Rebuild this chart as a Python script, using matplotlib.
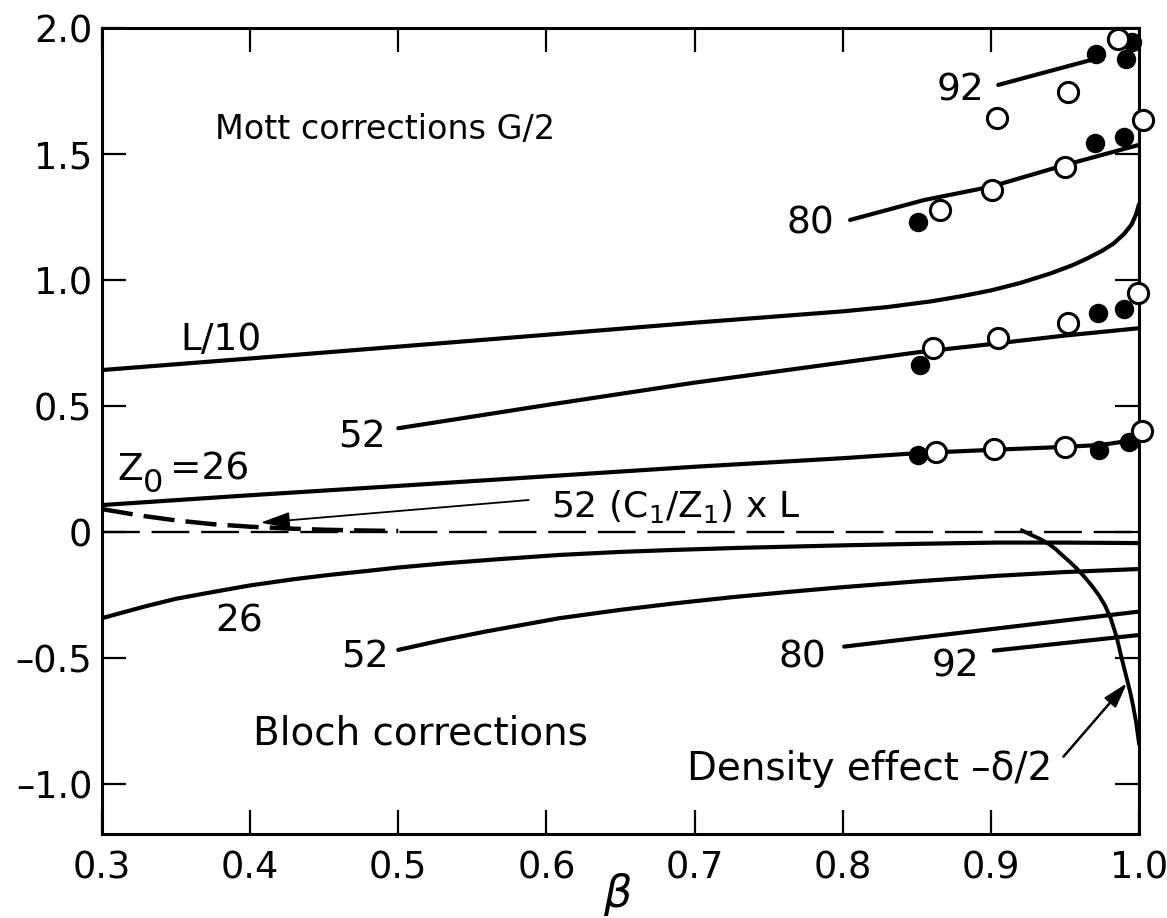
import matplotlib
matplotlib.use("Agg")
import matplotlib.pyplot as plt

plt.rcParams['font.family'] = ['DejaVu Sans']
plt.rcParams['mathtext.fontset'] = 'dejavusans'

# ---------------- data ----------------
x_ticks = [0.3, 0.4, 0.5, 0.6, 0.7, 0.8, 0.9, 1.0]
x_ticklabels = ["0.3", "0.4", "0.5", "0.6", "0.7", "0.8", "0.9", "1.0"]
y_ticks = [-1.0, -0.5, 0.0, 0.5, 1.0, 1.5, 2.0]
y_ticklabels = ["–1.0", "–0.5", "0", "0.5", "1.0", "1.5", "2.0"]

# L/10 curve
l10_x = [0.30, 0.40, 0.50, 0.60, 0.70, 0.80, 0.83, 0.86, 0.88, 0.90, 0.92, 0.94,
         0.955, 0.965, 0.975, 0.983, 0.99, 0.995, 0.998, 1.0]
l10_y = [0.642, 0.688, 0.735, 0.782, 0.830, 0.875, 0.892, 0.915, 0.935, 0.958, 0.988, 1.025,
         1.058, 1.085, 1.115, 1.145, 1.183, 1.220, 1.260, 1.300]

# Mott corrections G/2
mott26_x = [0.30, 0.40, 0.50, 0.60, 0.70, 0.80, 0.85, 0.90, 0.95, 0.975, 1.0]
mott26_y = [0.106, 0.145, 0.182, 0.220, 0.258, 0.292, 0.312, 0.325, 0.337, 0.345, 0.367]
mott52_x = [0.50, 0.60, 0.70, 0.80, 0.85, 0.90, 0.95, 1.0]
mott52_y = [0.411, 0.503, 0.592, 0.672, 0.712, 0.745, 0.779, 0.808]
mott80_x = [0.805, 0.855, 0.90, 0.95, 1.0]
mott80_y = [1.238, 1.317, 1.370, 1.456, 1.536]
mott92_x = [0.905, 0.972]
mott92_y = [1.774, 1.880]

# measured points (open and filled circles)
pts26_open_x = [0.863, 0.902, 0.950, 1.002]
pts26_open_y = [0.318, 0.3275, 0.338, 0.401]
pts26_fill_x = [0.851, 0.973, 0.993]
pts26_fill_y = [0.305, 0.325, 0.358]
pts52_open_x = [0.861, 0.905, 0.952, 0.999]
pts52_open_y = [0.728, 0.768, 0.828, 0.947]
pts52_fill_x = [0.852, 0.972, 0.990]
pts52_fill_y = [0.662, 0.867, 0.883]
pts80_open_x = [0.866, 0.9005, 0.950, 1.003]
pts80_open_y = [1.278, 1.357, 1.449, 1.635]
pts80_fill_x = [0.851, 0.970, 0.990]
pts80_fill_y = [1.231, 1.545, 1.568]
pts92_open_x = [0.904, 0.952, 0.986]
pts92_open_y = [1.642, 1.747, 1.955]
pts92_fill_x = [0.971, 0.991, 0.995]
pts92_fill_y = [1.896, 1.876, 1.946]

# Bloch corrections
bloch26_x = [0.30, 0.33, 0.35, 0.376, 0.40, 0.43, 0.454, 0.48, 0.50, 0.532, 0.57, 0.609,
             0.65, 0.687, 0.73, 0.765, 0.80, 0.85, 0.904, 0.95, 1.0]
bloch26_y = [-0.343, -0.295, -0.266, -0.238, -0.213, -0.188, -0.171, -0.155, -0.142, -0.125,
             -0.108, -0.092, -0.080, -0.072, -0.064, -0.059, -0.054, -0.048, -0.043, -0.043, -0.045]
bloch52_x = [0.50, 0.53, 0.56, 0.609, 0.65, 0.687, 0.725, 0.765, 0.80, 0.85, 0.904, 0.95, 1.0]
bloch52_y = [-0.469, -0.430, -0.395, -0.343, -0.310, -0.284, -0.260, -0.238, -0.220, -0.197,
             -0.175, -0.160, -0.148]
bloch80_x = [0.801, 1.0]
bloch80_y = [-0.456, -0.317]
bloch92_x = [0.902, 1.0]
bloch92_y = [-0.472, -0.410]

# Density effect -delta/2
dens_x = [0.921, 0.927, 0.933, 0.939, 0.944, 0.948, 0.953, 0.958, 0.963, 0.968, 0.973,
          0.977, 0.981, 0.985, 0.988, 0.991, 0.994, 0.996, 0.998, 1.0]
dens_y = [0.005, -0.012, -0.028, -0.048, -0.070, -0.092, -0.118, -0.146, -0.178, -0.213,
          -0.253, -0.292, -0.345, -0.420, -0.495, -0.565, -0.635, -0.690, -0.755, -0.840]

# 52 (C1/Z1) x L  (dashed)
shell_x = [0.30, 0.325, 0.35, 0.375, 0.40, 0.425, 0.45, 0.475, 0.50]
shell_y = [0.09, 0.065, 0.045, 0.030, 0.020, 0.013, 0.008, 0.005, 0.003]

zero_x = [0.30, 1.0]
zero_y = [0.0, 0.0]

# ---------------- figure ----------------
fig = plt.figure(figsize=(11.67, 9.18), dpi=100)
ax = fig.add_axes([0.0874, 0.0915, 0.8886, 0.878])
ax.set_xlim(0.3, 1.0)
ax.set_ylim(-1.2, 2.0)

LW = 3.0
k = 'black'
for xs, ys in [(l10_x, l10_y), (mott26_x, mott26_y), (mott52_x, mott52_y),
               (mott80_x, mott80_y), (mott92_x, mott92_y), (bloch26_x, bloch26_y),
               (bloch52_x, bloch52_y), (bloch80_x, bloch80_y), (bloch92_x, bloch92_y)]:
    ax.plot(xs, ys, color=k, lw=LW, solid_capstyle='round', solid_joinstyle='round', zorder=2)
ax.plot(dens_x, dens_y, color=k, lw=2.8, solid_joinstyle='round', zorder=2)
ax.plot(zero_x, zero_y, color=k, lw=1.7, linestyle=(0, (16, 5)), zorder=1)
ax.plot(shell_x, shell_y, color=k, lw=3.2, linestyle=(0, (7, 2.5)), zorder=2)

for ox, oy in [(pts26_open_x, pts26_open_y), (pts52_open_x, pts52_open_y),
               (pts80_open_x, pts80_open_y), (pts92_open_x, pts92_open_y)]:
    ax.plot(ox, oy, linestyle='none', marker='o', ms=14.5, mfc='white', mec=k,
            mew=2.2, zorder=4, clip_on=False)
for fx, fy in [(pts26_fill_x, pts26_fill_y), (pts52_fill_x, pts52_fill_y),
               (pts80_fill_x, pts80_fill_y), (pts92_fill_x, pts92_fill_y)]:
    ax.plot(fx, fy, linestyle='none', marker='o', ms=13, mfc=k, mec=k,
            mew=1, zorder=3, clip_on=False)

# axes styling
for s in ax.spines.values():
    s.set_linewidth(2.2)
ax.set_xticks(x_ticks)
ax.set_xticklabels(x_ticklabels)
ax.set_yticks(y_ticks)
ax.set_yticklabels(y_ticklabels)
ax.tick_params(direction='in', length=17, width=1.6, top=True, right=True,
               labelsize=26.5)
ax.tick_params(axis='x', pad=11)
ax.tick_params(axis='y', pad=7)

fig.text(617 / 1167, 1 - 907 / 918, "β", fontsize=32, style='italic',
         ha='center', va='baseline')

# annotations
def T(x, y, s, size=27, **kw):
    ax.text(x, y, s, fontsize=size, ha='left', va='baseline', **kw)

T(0.3764, 1.559, "Mott corrections G/2", size=24)
T(0.3528, 0.722, "L/10")
T(0.4596, 0.333, "52")
T(0.3101, 0.206, "Z")
T(0.3277, 0.158, "0", size=23)
T(0.346, 0.206, "=26")
T(0.3764, -0.398, "26")
T(0.4616, -0.537, "52")
T(0.7565, -0.537, "80")
T(0.860, -0.576, "92")
T(0.8634, 1.714, "92")
T(0.7619, 1.186, "80")
T(0.4021, -0.846, "Bloch corrections", size=28)
T(0.695, -0.985, "Density effect –δ/2", size=28)
T(0.603, 0.059, r"52 (C$_{\mathregular{1}}$/Z$_{\mathregular{1}}$) x L", size=26)

ax.annotate("", xy=(0.407, 0.036), xytext=(0.588, 0.126),
            arrowprops=dict(arrowstyle='-|>,head_length=1.8,head_width=0.5',
                            color=k, lw=1.3, shrinkA=0, shrinkB=0))
ax.annotate("", xy=(0.9919, -0.601), xytext=(0.949, -0.893),
            arrowprops=dict(arrowstyle='-|>,head_length=1.5,head_width=0.45',
                            color=k, lw=1.8, shrinkA=0, shrinkB=0))

fig.savefig("out.png", dpi=100)
